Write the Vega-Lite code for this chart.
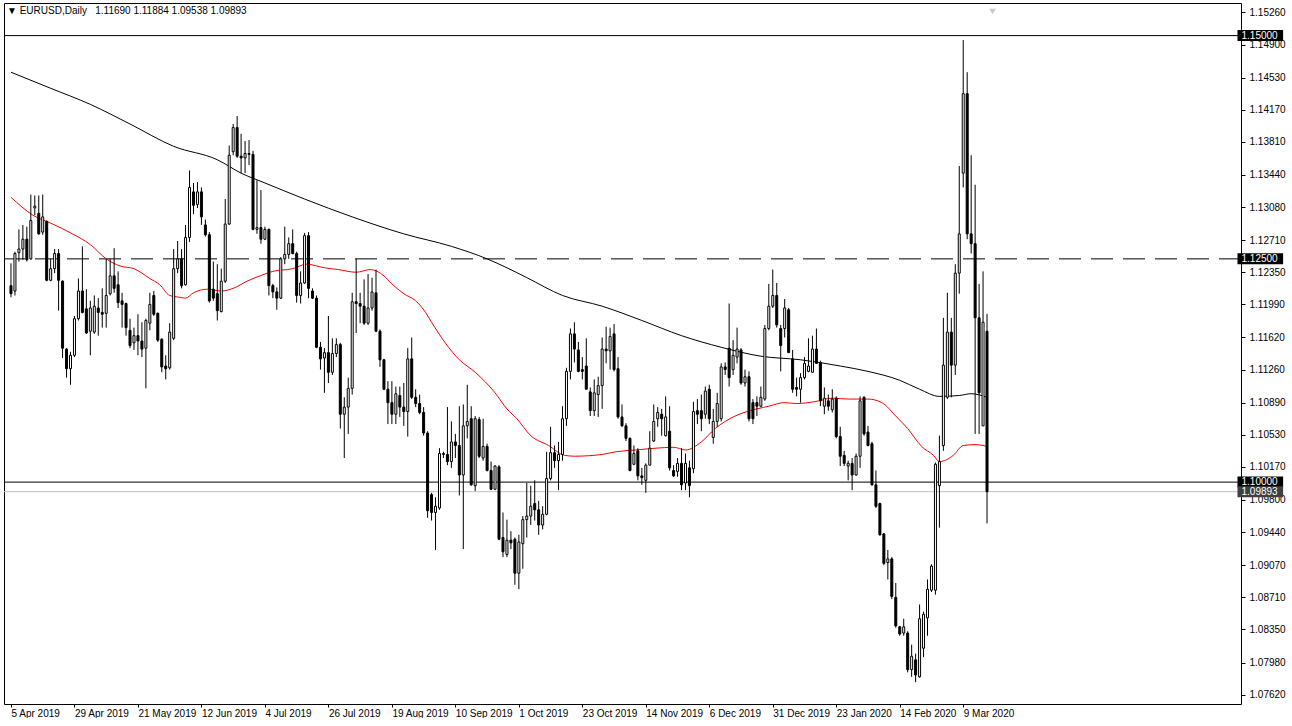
{
  "$schema": "https://vega.github.io/schema/vega-lite/v6.json",
  "width": 1237,
  "height": 701,
  "padding": {"left": 3, "top": 3, "right": 0, "bottom": 0},
  "background": "white",
  "title": {"text": "▼ EURUSD,Daily\u00a0\u00a0 1.11690 1.11884 1.09538 1.09893", "anchor": "start", "frame": "group", "offset": -13, "dx": 3, "font": "Liberation Sans", "fontSize": 10, "fontWeight": "normal", "color": "black"},
  "config": {"view": {"stroke": "black", "strokeWidth": 1}, "axis": {"labelFont": "Liberation Sans", "labelFontSize": 10, "labelColor": "black", "tickColor": "black", "grid": false, "domain": false, "labelOverlap": false}},
  "resolve": {"axis": {"x": "independent", "y": "independent"}},
  "datasets": {
    "candles": [
{"i":0,"o":1.1220,"h":1.1245,"l":1.1207,"c":1.1211},{"i":1,"o":1.1214,"h":1.1258,"l":1.1209,"c":1.1256},{"i":2,"o":1.1257,"h":1.1283,"l":1.1247,"c":1.1261},{"i":3,"o":1.1261,"h":1.1288,"l":1.1249,"c":1.1272},{"i":4,"o":1.1272,"h":1.1286,"l":1.1247,"c":1.1249},{"i":5,"o":1.1250,"h":1.1322,"l":1.1249,"c":1.1293},{"i":6,"o":1.1307,"h":1.1321,"l":1.1299,"c":1.1309},{"i":7,"o":1.1301,"h":1.1321,"l":1.1277,"c":1.1278},{"i":8,"o":1.1280,"h":1.1322,"l":1.1277,"c":1.1297},{"i":9,"o":1.1292,"h":1.1293,"l":1.1225,"c":1.1226},
{"i":10,"o":1.1226,"h":1.1250,"l":1.1225,"c":1.1239},{"i":11,"o":1.1239,"h":1.1261,"l":1.1234,"c":1.1256},{"i":12,"o":1.1256,"h":1.1261,"l":1.1192,"c":1.1226},{"i":13,"o":1.1225,"h":1.1226,"l":1.1139,"c":1.1150},{"i":14,"o":1.1149,"h":1.1150,"l":1.1117,"c":1.1127},{"i":15,"o":1.1127,"h":1.1146,"l":1.1109,"c":1.1142},{"i":16,"o":1.1142,"h":1.1186,"l":1.1140,"c":1.1183},{"i":17,"o":1.1183,"h":1.1228,"l":1.1181,"c":1.1214},{"i":18,"o":1.1214,"h":1.1264,"l":1.1189,"c":1.1190},{"i":19,"o":1.1194,"h":1.1216,"l":1.1166,"c":1.1167},
{"i":20,"o":1.1169,"h":1.1203,"l":1.1142,"c":1.1195},{"i":21,"o":1.1168,"h":1.1209,"l":1.1166,"c":1.1197},{"i":22,"o":1.1195,"h":1.1206,"l":1.1164,"c":1.1190},{"i":23,"o":1.1190,"h":1.1217,"l":1.1173,"c":1.1188},{"i":24,"o":1.1189,"h":1.1250,"l":1.1173,"c":1.1209},{"i":25,"o":1.1211,"h":1.1250,"l":1.1209,"c":1.1231},{"i":26,"o":1.1231,"h":1.1262,"l":1.1212,"c":1.1217},{"i":27,"o":1.1221,"h":1.1236,"l":1.1195,"c":1.1201},{"i":28,"o":1.1203,"h":1.1212,"l":1.1173,"c":1.1199},{"i":29,"o":1.1200,"h":1.1201,"l":1.1164,"c":1.1173},
{"i":30,"o":1.1170,"h":1.1183,"l":1.1150,"c":1.1153},{"i":31,"o":1.1156,"h":1.1173,"l":1.1148,"c":1.1164},{"i":32,"o":1.1164,"h":1.1188,"l":1.1142,"c":1.1158},{"i":33,"o":1.1158,"h":1.1179,"l":1.1140,"c":1.1149},{"i":34,"o":1.1150,"h":1.1183,"l":1.1105,"c":1.1181},{"i":35,"o":1.1178,"h":1.1212,"l":1.1170,"c":1.1199},{"i":36,"o":1.1209,"h":1.1214,"l":1.1186,"c":1.1188},{"i":37,"o":1.1189,"h":1.1190,"l":1.1157,"c":1.1159},{"i":38,"o":1.1160,"h":1.1161,"l":1.1123,"c":1.1129},{"i":39,"o":1.1130,"h":1.1142,"l":1.1115,"c":1.1127},
{"i":40,"o":1.1128,"h":1.1178,"l":1.1126,"c":1.1168},{"i":41,"o":1.1161,"h":1.1261,"l":1.1159,"c":1.1239},{"i":42,"o":1.1239,"h":1.1270,"l":1.1234,"c":1.1250},{"i":43,"o":1.1250,"h":1.1261,"l":1.1217,"c":1.1220},{"i":44,"o":1.1221,"h":1.1288,"l":1.1220,"c":1.1274},{"i":45,"o":1.1274,"h":1.1349,"l":1.1269,"c":1.1330},{"i":46,"o":1.1325,"h":1.1335,"l":1.1300,"c":1.1310},{"i":47,"o":1.1311,"h":1.1336,"l":1.1307,"c":1.1325},{"i":48,"o":1.1325,"h":1.1330,"l":1.1288,"c":1.1297},{"i":49,"o":1.1288,"h":1.1294,"l":1.1275,"c":1.1277},
{"i":50,"o":1.1277,"h":1.1280,"l":1.1201,"c":1.1203},{"i":51,"o":1.1216,"h":1.1247,"l":1.1203,"c":1.1206},{"i":52,"o":1.1211,"h":1.1244,"l":1.1181,"c":1.1192},{"i":53,"o":1.1191,"h":1.1239,"l":1.1190,"c":1.1225},{"i":54,"o":1.1225,"h":1.1317,"l":1.1223,"c":1.1289},{"i":55,"o":1.1289,"h":1.1377,"l":1.1288,"c":1.1366},{"i":56,"o":1.1370,"h":1.1401,"l":1.1366,"c":1.1397},{"i":57,"o":1.1397,"h":1.1410,"l":1.1363,"c":1.1365},{"i":58,"o":1.1365,"h":1.1390,"l":1.1346,"c":1.1363},{"i":59,"o":1.1363,"h":1.1382,"l":1.1346,"c":1.1368},
{"i":60,"o":1.1368,"h":1.1383,"l":1.1355,"c":1.1367},{"i":61,"o":1.1367,"h":1.1371,"l":1.1282,"c":1.1283},{"i":62,"o":1.1283,"h":1.1338,"l":1.1278,"c":1.1285},{"i":63,"o":1.1285,"h":1.1327,"l":1.1267,"c":1.1272},{"i":64,"o":1.1272,"h":1.1286,"l":1.1271,"c":1.1283},{"i":65,"o":1.1283,"h":1.1284,"l":1.1209,"c":1.1220},{"i":66,"o":1.1220,"h":1.1222,"l":1.1206,"c":1.1213},{"i":67,"o":1.1213,"h":1.1218,"l":1.1193,"c":1.1206},{"i":68,"o":1.1206,"h":1.1252,"l":1.1205,"c":1.1250},{"i":69,"o":1.1250,"h":1.1286,"l":1.1244,"c":1.1255},
{"i":70,"o":1.1255,"h":1.1274,"l":1.1250,"c":1.1267},{"i":71,"o":1.1267,"h":1.1283,"l":1.1255,"c":1.1256},{"i":72,"o":1.1256,"h":1.1258,"l":1.1201,"c":1.1209},{"i":73,"o":1.1209,"h":1.1236,"l":1.1200,"c":1.1223},{"i":74,"o":1.1223,"h":1.1279,"l":1.1222,"c":1.1276},{"i":75,"o":1.1276,"h":1.1280,"l":1.1206,"c":1.1217},{"i":76,"o":1.1214,"h":1.1217,"l":1.1205,"c":1.1206},{"i":77,"o":1.1206,"h":1.1209,"l":1.1150,"c":1.1151},{"i":78,"o":1.1151,"h":1.1157,"l":1.1126,"c":1.1138},{"i":79,"o":1.1139,"h":1.1150,"l":1.1100,"c":1.1145},
{"i":80,"o":1.1145,"h":1.1186,"l":1.1111,"c":1.1123},{"i":81,"o":1.1123,"h":1.1161,"l":1.1120,"c":1.1144},{"i":82,"o":1.1144,"h":1.1161,"l":1.1140,"c":1.1154},{"i":83,"o":1.1154,"h":1.1156,"l":1.1060,"c":1.1076},{"i":84,"o":1.1076,"h":1.1095,"l":1.1027,"c":1.1084},{"i":85,"o":1.1084,"h":1.1117,"l":1.1054,"c":1.1105},{"i":86,"o":1.1105,"h":1.1212,"l":1.1098,"c":1.1202},{"i":87,"o":1.1202,"h":1.1250,"l":1.1167,"c":1.1200},{"i":88,"o":1.1200,"h":1.1212,"l":1.1178,"c":1.1197},{"i":89,"o":1.1197,"h":1.1227,"l":1.1176,"c":1.1178},
{"i":90,"o":1.1178,"h":1.1233,"l":1.1176,"c":1.1195},{"i":91,"o":1.1195,"h":1.1229,"l":1.1192,"c":1.1213},{"i":92,"o":1.1212,"h":1.1238,"l":1.1168,"c":1.1169},{"i":93,"o":1.1169,"h":1.1171,"l":1.1129,"c":1.1137},{"i":94,"o":1.1137,"h":1.1138,"l":1.1103,"c":1.1104},{"i":95,"o":1.1104,"h":1.1113,"l":1.1065,"c":1.1089},{"i":96,"o":1.1089,"h":1.1113,"l":1.1065,"c":1.1076},{"i":97,"o":1.1076,"h":1.1107,"l":1.1065,"c":1.1099},{"i":98,"o":1.1097,"h":1.1107,"l":1.1073,"c":1.1084},{"i":99,"o":1.1084,"h":1.1111,"l":1.1063,"c":1.1079},
{"i":100,"o":1.1079,"h":1.1150,"l":1.1051,"c":1.1138},{"i":101,"o":1.1138,"h":1.1162,"l":1.1093,"c":1.1095},{"i":102,"o":1.1095,"h":1.1104,"l":1.1084,"c":1.1088},{"i":103,"o":1.1088,"h":1.1098,"l":1.1076,"c":1.1078},{"i":104,"o":1.1078,"h":1.1084,"l":1.1052,"c":1.1055},{"i":105,"o":1.1055,"h":1.1057,"l":1.0960,"c":1.0968},{"i":106,"o":1.0986,"h":1.0988,"l":1.0957,"c":1.0966},{"i":107,"o":1.0966,"h":1.0983,"l":1.0924,"c":1.0973},{"i":108,"o":1.0971,"h":1.1038,"l":1.0969,"c":1.1032},{"i":109,"o":1.1032,"h":1.1034,"l":1.1027,"c":1.1031},
{"i":110,"o":1.1031,"h":1.1084,"l":1.1019,"c":1.1023},{"i":111,"o":1.1023,"h":1.1068,"l":1.1016,"c":1.1045},{"i":112,"o":1.1045,"h":1.1054,"l":1.1027,"c":1.1041},{"i":113,"o":1.1041,"h":1.1085,"l":1.0985,"c":1.1008},{"i":114,"o":1.1008,"h":1.1087,"l":1.0925,"c":1.1063},{"i":115,"o":1.1063,"h":1.1109,"l":1.1049,"c":1.1068},{"i":116,"o":1.1071,"h":1.1085,"l":1.0996,"c":1.0997},{"i":117,"o":1.0996,"h":1.1074,"l":1.0990,"c":1.1071},{"i":118,"o":1.1070,"h":1.1073,"l":1.1027,"c":1.1029},{"i":119,"o":1.1027,"h":1.1071,"l":1.1024,"c":1.1040},
{"i":120,"o":1.1040,"h":1.1043,"l":1.1012,"c":1.1013},{"i":121,"o":1.1013,"h":1.1023,"l":1.0991,"c":1.0992},{"i":122,"o":1.0992,"h":1.1019,"l":1.0991,"c":1.1018},{"i":123,"o":1.1017,"h":1.1019,"l":1.0935,"c":1.0936},{"i":124,"o":1.0938,"h":1.0966,"l":1.0916,"c":1.0922},{"i":125,"o":1.0919,"h":1.0958,"l":1.0916,"c":1.0935},{"i":126,"o":1.0935,"h":1.0945,"l":1.0925,"c":1.0932},{"i":127,"o":1.0936,"h":1.0938,"l":1.0885,"c":1.0898},{"i":128,"o":1.0898,"h":1.0941,"l":1.0880,"c":1.0933},{"i":129,"o":1.0931,"h":1.0962,"l":1.0903,"c":1.0958},
{"i":130,"o":1.0958,"h":1.0999,"l":1.0938,"c":1.0962},{"i":131,"o":1.0962,"h":1.0996,"l":1.0952,"c":1.0973},{"i":132,"o":1.0976,"h":1.1002,"l":1.0957,"c":1.0969},{"i":133,"o":1.0969,"h":1.0979,"l":1.0941,"c":1.0952},{"i":134,"o":1.0952,"h":1.0973,"l":1.0947,"c":1.0964},{"i":135,"o":1.0964,"h":1.1034,"l":1.0963,"c":1.1004},{"i":136,"o":1.1004,"h":1.1062,"l":1.1002,"c":1.1033},{"i":137,"o":1.1033,"h":1.1041,"l":1.1016,"c":1.1024},{"i":138,"o":1.1024,"h":1.1045,"l":1.0991,"c":1.1031},{"i":139,"o":1.1031,"h":1.1085,"l":1.1024,"c":1.1071},
{"i":140,"o":1.1071,"h":1.1128,"l":1.1063,"c":1.1124},{"i":141,"o":1.1124,"h":1.1172,"l":1.1115,"c":1.1166},{"i":142,"o":1.1166,"h":1.1179,"l":1.1134,"c":1.1149},{"i":143,"o":1.1148,"h":1.1157,"l":1.1123,"c":1.1124},{"i":144,"o":1.1126,"h":1.1140,"l":1.1115,"c":1.1124},{"i":145,"o":1.1130,"h":1.1161,"l":1.1104,"c":1.1104},{"i":146,"o":1.1101,"h":1.1106,"l":1.1074,"c":1.1080},{"i":147,"o":1.1080,"h":1.1115,"l":1.1074,"c":1.1100},{"i":148,"o":1.1098,"h":1.1118,"l":1.1073,"c":1.1108},{"i":149,"o":1.1108,"h":1.1162,"l":1.1082,"c":1.1149},
{"i":150,"o":1.1149,"h":1.1174,"l":1.1133,"c":1.1147},{"i":151,"o":1.1147,"h":1.1173,"l":1.1126,"c":1.1163},{"i":152,"o":1.1166,"h":1.1177,"l":1.1124,"c":1.1126},{"i":153,"o":1.1127,"h":1.1140,"l":1.1071,"c":1.1073},{"i":154,"o":1.1073,"h":1.1087,"l":1.1062,"c":1.1063},{"i":155,"o":1.1063,"h":1.1066,"l":1.1046,"c":1.1049},{"i":156,"o":1.1049,"h":1.1050,"l":1.1012,"c":1.1013},{"i":157,"o":1.1020,"h":1.1041,"l":1.1019,"c":1.1032},{"i":158,"o":1.1035,"h":1.1038,"l":1.1002,"c":1.1007},{"i":159,"o":1.1007,"h":1.1016,"l":1.0997,"c":1.1005},
{"i":160,"o":1.1002,"h":1.1021,"l":1.0988,"c":1.1019},{"i":161,"o":1.1019,"h":1.1057,"l":1.1019,"c":1.1038},{"i":162,"o":1.1046,"h":1.1087,"l":1.1045,"c":1.1068},{"i":163,"o":1.1071,"h":1.1084,"l":1.1062,"c":1.1078},{"i":164,"o":1.1076,"h":1.1082,"l":1.1052,"c":1.1071},{"i":165,"o":1.1052,"h":1.1096,"l":1.1051,"c":1.1073},{"i":166,"o":1.1057,"h":1.1085,"l":1.1013,"c":1.1016},{"i":167,"o":1.1013,"h":1.1019,"l":1.1006,"c":1.1007},{"i":168,"o":1.1012,"h":1.1027,"l":1.1006,"c":1.1021},{"i":169,"o":1.1021,"h":1.1038,"l":1.0991,"c":1.0997},
{"i":170,"o":1.0999,"h":1.1032,"l":1.0991,"c":1.1021},{"i":171,"o":1.1016,"h":1.1024,"l":1.0983,"c":1.0996},{"i":172,"o":1.1015,"h":1.1090,"l":1.1010,"c":1.1079},{"i":173,"o":1.1080,"h":1.1093,"l":1.1065,"c":1.1076},{"i":174,"o":1.1080,"h":1.1098,"l":1.1057,"c":1.1071},{"i":175,"o":1.1076,"h":1.1107,"l":1.1071,"c":1.1102},{"i":176,"o":1.1104,"h":1.1109,"l":1.1065,"c":1.1071},{"i":177,"o":1.1050,"h":1.1082,"l":1.1043,"c":1.1068},{"i":178,"o":1.1068,"h":1.1100,"l":1.1062,"c":1.1088},{"i":179,"o":1.1071,"h":1.1133,"l":1.1068,"c":1.1129},
{"i":180,"o":1.1129,"h":1.1134,"l":1.1120,"c":1.1126},{"i":181,"o":1.1150,"h":1.1200,"l":1.1107,"c":1.1117},{"i":182,"o":1.1126,"h":1.1159,"l":1.1120,"c":1.1142},{"i":183,"o":1.1140,"h":1.1173,"l":1.1133,"c":1.1149},{"i":184,"o":1.1148,"h":1.1150,"l":1.1109,"c":1.1111},{"i":185,"o":1.1111,"h":1.1126,"l":1.1107,"c":1.1118},{"i":186,"o":1.1118,"h":1.1124,"l":1.1068,"c":1.1071},{"i":187,"o":1.1089,"h":1.1093,"l":1.1065,"c":1.1071},{"i":188,"o":1.1089,"h":1.1096,"l":1.1074,"c":1.1085},{"i":189,"o":1.1085,"h":1.1107,"l":1.1084,"c":1.1095},
{"i":190,"o":1.1093,"h":1.1176,"l":1.1091,"c":1.1172},{"i":191,"o":1.1172,"h":1.1222,"l":1.1170,"c":1.1197},{"i":192,"o":1.1197,"h":1.1238,"l":1.1195,"c":1.1209},{"i":193,"o":1.1209,"h":1.1223,"l":1.1173,"c":1.1176},{"i":194,"o":1.1172,"h":1.1176,"l":1.1124,"c":1.1153},{"i":195,"o":1.1172,"h":1.1205,"l":1.1162,"c":1.1195},{"i":196,"o":1.1193,"h":1.1195,"l":1.1145,"c":1.1145},{"i":197,"o":1.1138,"h":1.1148,"l":1.1100,"c":1.1104},{"i":198,"o":1.1106,"h":1.1117,"l":1.1096,"c":1.1104},{"i":199,"o":1.1104,"h":1.1122,"l":1.1089,"c":1.1117},
{"i":200,"o":1.1117,"h":1.1140,"l":1.1115,"c":1.1133},{"i":201,"o":1.1124,"h":1.1161,"l":1.1123,"c":1.1130},{"i":202,"o":1.1123,"h":1.1164,"l":1.1123,"c":1.1149},{"i":203,"o":1.1149,"h":1.1172,"l":1.1133,"c":1.1133},{"i":204,"o":1.1134,"h":1.1136,"l":1.1085,"c":1.1091},{"i":205,"o":1.1085,"h":1.1106,"l":1.1076,"c":1.1094},{"i":206,"o":1.1091,"h":1.1098,"l":1.1080,"c":1.1085},{"i":207,"o":1.1081,"h":1.1104,"l":1.1078,"c":1.1093},{"i":208,"o":1.1094,"h":1.1096,"l":1.1049,"c":1.1051},{"i":209,"o":1.1051,"h":1.1062,"l":1.1018,"c":1.1029},
{"i":210,"o":1.1030,"h":1.1035,"l":1.1018,"c":1.1021},{"i":211,"o":1.1018,"h":1.1024,"l":1.1002,"c":1.1021},{"i":212,"o":1.1021,"h":1.1027,"l":1.0991,"c":1.1008},{"i":213,"o":1.1008,"h":1.1032,"l":1.1007,"c":1.1029},{"i":214,"o":1.1029,"h":1.1096,"l":1.1016,"c":1.1091},{"i":215,"o":1.1095,"h":1.1096,"l":1.1052,"c":1.1054},{"i":216,"o":1.1056,"h":1.1063,"l":1.1040,"c":1.1041},{"i":217,"o":1.1043,"h":1.1045,"l":1.0996,"c":1.0997},{"i":218,"o":1.0997,"h":1.1013,"l":1.0971,"c":1.0973},{"i":219,"o":1.0976,"h":1.0977,"l":1.0940,"c":1.0941},
{"i":220,"o":1.0942,"h":1.0943,"l":1.0907,"c":1.0909},{"i":221,"o":1.0910,"h":1.0924,"l":1.0891,"c":1.0914},{"i":222,"o":1.0914,"h":1.0916,"l":1.0869,"c":1.0872},{"i":223,"o":1.0871,"h":1.0887,"l":1.0837,"c":1.0839},{"i":224,"o":1.0838,"h":1.0839,"l":1.0828,"c":1.0830},{"i":225,"o":1.0831,"h":1.0847,"l":1.0828,"c":1.0838},{"i":226,"o":1.0831,"h":1.0833,"l":1.0787,"c":1.0790},{"i":227,"o":1.0790,"h":1.0818,"l":1.0782,"c":1.0805},{"i":228,"o":1.0801,"h":1.0808,"l":1.0776,"c":1.0784},{"i":229,"o":1.0782,"h":1.0863,"l":1.0781,"c":1.0847},
{"i":230,"o":1.0814,"h":1.0855,"l":1.0804,"c":1.0852},{"i":231,"o":1.0848,"h":1.0891,"l":1.0828,"c":1.0880},{"i":232,"o":1.0879,"h":1.0908,"l":1.0877,"c":1.0906},{"i":233,"o":1.0879,"h":1.1022,"l":1.0874,"c":1.1020},{"i":234,"o":1.0996,"h":1.1052,"l":1.0949,"c":1.1023},{"i":235,"o":1.1041,"h":1.1184,"l":1.1035,"c":1.1131},{"i":236,"o":1.1095,"h":1.1212,"l":1.1093,"c":1.1168},{"i":237,"o":1.1168,"h":1.1184,"l":1.1095,"c":1.1131},{"i":238,"o":1.1131,"h":1.1244,"l":1.1120,"c":1.1234},{"i":239,"o":1.1234,"h":1.1354,"l":1.1211,"c":1.1278},
{"i":240,"o":1.1346,"h":1.1495,"l":1.1330,"c":1.1435},{"i":241,"o":1.1435,"h":1.1459,"l":1.1272,"c":1.1278},{"i":242,"o":1.1278,"h":1.1366,"l":1.1256,"c":1.1267},{"i":243,"o":1.1267,"h":1.1333,"l":1.1054,"c":1.1184},{"i":244,"o":1.1184,"h":1.1222,"l":1.1054,"c":1.1100},{"i":245,"o":1.1063,"h":1.1236,"l":1.1063,"c":1.1179},{"i":246,"o":1.1169,"h":1.11884,"l":1.09538,"c":1.09893}
    ],
    "ma": [
{"i":0,"v":1.1459,"s":"ma200"},{"i":10,"v":1.1441,"s":"ma200"},{"i":20,"v":1.1423,"s":"ma200"},{"i":30,"v":1.1401,"s":"ma200"},{"i":41,"v":1.1376,"s":"ma200"},{"i":52,"v":1.1361,"s":"ma200"},{"i":58,"v":1.1346,"s":"ma200"},{"i":64,"v":1.1335,"s":"ma200"},{"i":74,"v":1.1317,"s":"ma200"},{"i":86,"v":1.1297,"s":"ma200"},{"i":99,"v":1.1278,"s":"ma200"},{"i":111,"v":1.1264,"s":"ma200"},{"i":120,"v":1.1250,"s":"ma200"},{"i":125,"v":1.1240,"s":"ma200"},{"i":130,"v":1.1229,"s":"ma200"},{"i":139,"v":1.1209,"s":"ma200"},{"i":149,"v":1.1197,"s":"ma200"},{"i":159,"v":1.1181,"s":"ma200"},{"i":169,"v":1.1164,"s":"ma200"},{"i":179,"v":1.1151,"s":"ma200"},{"i":189,"v":1.1141,"s":"ma200"},{"i":199,"v":1.1137,"s":"ma200"},{"i":209,"v":1.1130,"s":"ma200"},{"i":216,"v":1.1124,"s":"ma200"},{"i":224,"v":1.1114,"s":"ma200"},{"i":229,"v":1.1104,"s":"ma200"},{"i":234,"v":1.1096,"s":"ma200"},{"i":239,"v":1.1097,"s":"ma200"},{"i":242,"v":1.1099,"s":"ma200"},{"i":246,"v":1.1095,"s":"ma200"},
{"i":0,"v":1.1319,"s":"ma50"},{"i":5.5,"v":1.1299,"s":"ma50"},{"i":10.5,"v":1.1289,"s":"ma50"},{"i":15.5,"v":1.1278,"s":"ma50"},{"i":20,"v":1.1266,"s":"ma50"},{"i":24,"v":1.1250,"s":"ma50"},{"i":27.5,"v":1.1242,"s":"ma50"},{"i":31,"v":1.1239,"s":"ma50"},{"i":35,"v":1.1228,"s":"ma50"},{"i":37.5,"v":1.1221,"s":"ma50"},{"i":40,"v":1.1209,"s":"ma50"},{"i":42.5,"v":1.1207,"s":"ma50"},{"i":44,"v":1.1206,"s":"ma50"},{"i":46,"v":1.1212,"s":"ma50"},{"i":49.5,"v":1.1216,"s":"ma50"},{"i":53,"v":1.1214,"s":"ma50"},{"i":56,"v":1.1217,"s":"ma50"},{"i":59.5,"v":1.1225,"s":"ma50"},{"i":64,"v":1.1233,"s":"ma50"},{"i":66,"v":1.1236,"s":"ma50"},{"i":71,"v":1.1239,"s":"ma50"},{"i":74.5,"v":1.1244,"s":"ma50"},{"i":79,"v":1.1240,"s":"ma50"},{"i":82.5,"v":1.1238,"s":"ma50"},{"i":87,"v":1.1235,"s":"ma50"},{"i":90.5,"v":1.1238,"s":"ma50"},{"i":94,"v":1.1231,"s":"ma50"},{"i":96,"v":1.1222,"s":"ma50"},{"i":99,"v":1.1211,"s":"ma50"},{"i":102,"v":1.1203,"s":"ma50"},{"i":104.5,"v":1.1190,"s":"ma50"},{"i":106,"v":1.1179,"s":"ma50"},{"i":113,"v":1.1137,"s":"ma50"},{"i":117,"v":1.1123,"s":"ma50"},{"i":122,"v":1.1100,"s":"ma50"},{"i":125,"v":1.1082,"s":"ma50"},{"i":127.5,"v":1.1071,"s":"ma50"},{"i":131,"v":1.1052,"s":"ma50"},{"i":135.5,"v":1.1041,"s":"ma50"},{"i":139.5,"v":1.1030,"s":"ma50"},{"i":142,"v":1.1029,"s":"ma50"},{"i":149,"v":1.1031,"s":"ma50"},{"i":152.5,"v":1.1034,"s":"ma50"},{"i":157.5,"v":1.1036,"s":"ma50"},{"i":162.5,"v":1.1038,"s":"ma50"},{"i":167,"v":1.1039,"s":"ma50"},{"i":170,"v":1.1036,"s":"ma50"},{"i":174,"v":1.1045,"s":"ma50"},{"i":177.5,"v":1.1060,"s":"ma50"},{"i":182.5,"v":1.1074,"s":"ma50"},{"i":185.5,"v":1.1079,"s":"ma50"},{"i":191,"v":1.1085,"s":"ma50"},{"i":195,"v":1.1089,"s":"ma50"},{"i":198,"v":1.1088,"s":"ma50"},{"i":202.5,"v":1.1090,"s":"ma50"},{"i":207,"v":1.1094,"s":"ma50"},{"i":211,"v":1.1093,"s":"ma50"},{"i":216,"v":1.1093,"s":"ma50"},{"i":219.5,"v":1.1089,"s":"ma50"},{"i":223,"v":1.1074,"s":"ma50"},{"i":226,"v":1.1060,"s":"ma50"},{"i":229.5,"v":1.1040,"s":"ma50"},{"i":232.5,"v":1.1030,"s":"ma50"},{"i":234,"v":1.1023,"s":"ma50"},{"i":237.5,"v":1.1030,"s":"ma50"},{"i":240,"v":1.1041,"s":"ma50"},{"i":243,"v":1.1042,"s":"ma50"},{"i":246,"v":1.1040,"s":"ma50"}
    ],
    "levels": [
      {"name": "l115", "p": 1.15},
      {"name": "l1125", "p": 1.125},
      {"name": "l110", "p": 1.10},
      {"name": "bid", "p": 1.09893}
    ]
  },
  "layer": [
    {
      "data": {"name": "levels"},
      "transform": [{"filter": "datum.name != 'l1125'"}],
      "mark": {"type": "rule", "strokeWidth": 1},
      "encoding": {
        "y": {"field": "p", "type": "quantitative", "scale": {"domain": [1.075714, 1.153091], "nice": false, "zero": false},
          "axis": {"orient": "right", "title": null, "values": [1.1526, 1.149, 1.1453, 1.1417, 1.1381, 1.1344, 1.1308, 1.1271, 1.1235, 1.1199, 1.1162, 1.1126, 1.1089, 1.1053, 1.1017, 1.098, 1.0944, 1.0907, 1.0871, 1.0835, 1.0798, 1.0762], "format": ".5f", "labelOverlap": false, "tickSize": 4, "labelPadding": 4, "labelBound": false, "labelFlush": false}},
        "color": {"field": "name", "type": "nominal", "scale": {"domain": ["l115", "l110", "bid"], "range": ["black", "black", "#c0c0c0"]}, "legend": null}
      }
    },
    {
      "data": {"name": "levels"},
      "transform": [{"filter": "datum.name == 'l1125'"}],
      "mark": {"type": "rule", "strokeWidth": 1, "color": "black", "strokeDash": [22, 10]},
      "encoding": {
        "y": {"field": "p", "type": "quantitative", "scale": {"domain": [1.075714, 1.153091], "nice": false, "zero": false}, "axis": null}
      }
    },
    {
      "data": {"name": "ma"},
      "mark": {"type": "line", "strokeWidth": 1, "interpolate": "monotone"},
      "encoding": {
        "x": {"field": "i", "type": "quantitative", "scale": {"domain": [-0.5, 308.75], "nice": false, "zero": false}, "axis": null},
        "y": {"field": "v", "type": "quantitative", "scale": {"domain": [1.075714, 1.153091], "nice": false, "zero": false}, "axis": null},
        "stroke": {"field": "s", "type": "nominal", "scale": {"domain": ["ma200", "ma50"], "range": ["black", "red"]}, "legend": null}
      }
    },
    {
      "data": {"name": "candles"},
      "mark": {"type": "rule", "color": "black", "strokeWidth": 1},
      "encoding": {
        "x": {"field": "i", "type": "quantitative", "scale": {"domain": [-0.5, 308.75], "nice": false, "zero": false},
          "axis": {"orient": "bottom", "title": null, "values": [0, 16, 32, 48, 64, 80, 96, 112, 128, 144, 160, 176, 192, 208, 224, 240], "labelExpr": "['5 Apr 2019','29 Apr 2019','21 May 2019','12 Jun 2019','4 Jul 2019','26 Jul 2019','19 Aug 2019','10 Sep 2019','1 Oct 2019','23 Oct 2019','14 Nov 2019','6 Dec 2019','31 Dec 2019','23 Jan 2020','14 Feb 2020','9 Mar 2020'][round(datum.value/16)]", "labelAlign": "left", "labelBaseline": "top", "tickSize": 3, "labelPadding": 1, "labelOverlap": false, "labelBound": false, "labelFlush": false}},
        "y": {"field": "l", "type": "quantitative", "scale": {"domain": [1.075714, 1.153091], "nice": false, "zero": false}, "axis": null},
        "y2": {"field": "h"}
      }
    },
    {
      "data": {"name": "candles"},
      "mark": {"type": "bar", "width": 2, "stroke": "black", "strokeWidth": 1},
      "encoding": {
        "x": {"field": "i", "type": "quantitative", "scale": {"domain": [-0.5, 308.75], "nice": false, "zero": false}, "axis": null},
        "y": {"field": "o", "type": "quantitative", "scale": {"domain": [1.075714, 1.153091], "nice": false, "zero": false}, "axis": null},
        "y2": {"field": "c"},
        "fill": {"condition": {"test": "datum.c >= datum.o", "value": "white"}, "value": "black"}
      }
    },
    {
      "data": {"name": "levels"},
      "mark": {"type": "bar", "orient": "horizontal", "height": 11, "clip": false},
      "encoding": {
        "x": {"datum": 309.125, "type": "quantitative", "scale": {"domain": [-0.5, 308.75], "nice": false, "zero": false}, "axis": null},
        "x2": {"datum": 320.625},
        "y": {"field": "p", "type": "quantitative", "scale": {"domain": [1.075714, 1.153091], "nice": false, "zero": false}, "axis": null},
        "fill": {"field": "name", "type": "nominal", "scale": {"domain": ["l115", "l1125", "l110", "bid"], "range": ["black", "black", "black", "#404040"]}, "legend": null}
      }
    },
    {
      "data": {"name": "levels"},
      "mark": {"type": "text", "align": "left", "baseline": "middle", "dx": 4, "font": "Liberation Sans", "fontSize": 10, "color": "white", "clip": false},
      "encoding": {
        "x": {"datum": 309.125, "type": "quantitative", "scale": {"domain": [-0.5, 308.75], "nice": false, "zero": false}, "axis": null},
        "y": {"field": "p", "type": "quantitative", "scale": {"domain": [1.075714, 1.153091], "nice": false, "zero": false}, "axis": null},
        "text": {"field": "p", "type": "quantitative", "format": ".5f"}
      }
    },
    {
      "data": {"values": [{"k": "shift"}]},
      "mark": {"type": "point", "shape": "triangle-down", "filled": true, "size": 40, "color": "#b0b0b0"},
      "encoding": {
        "x": {"datum": 247.4, "type": "quantitative", "scale": {"domain": [-0.5, 308.75], "nice": false, "zero": false}, "axis": null},
        "y": {"datum": 1.1527, "type": "quantitative", "scale": {"domain": [1.075714, 1.153091], "nice": false, "zero": false}, "axis": null}
      }
    }
  ]
}
